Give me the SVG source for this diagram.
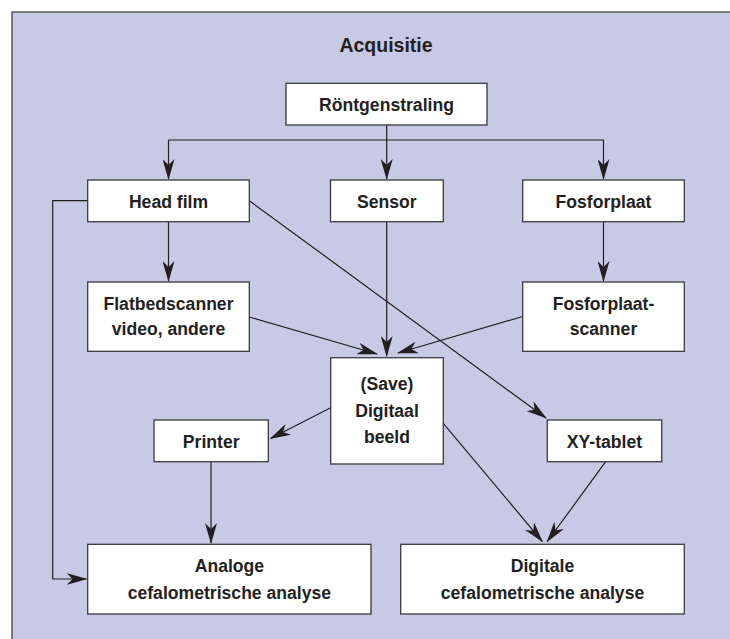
<svg xmlns="http://www.w3.org/2000/svg" width="730" height="639" viewBox="0 0 730 639">
<defs>
<style>
.box{fill:#ffffff;stroke:#3a3a3c;stroke-width:1.3}
.t{font-family:"Liberation Sans",Arial,sans-serif;font-weight:700;font-size:17.6px;fill:#231f20;text-anchor:middle}
.title{font-size:19.5px}
.c{fill:none;stroke:#231f20;stroke-width:1.2}
.a{marker-end:url(#arr)}
</style>
<marker id="arr" viewBox="0 0 21 12" refX="20" refY="6" markerWidth="21" markerHeight="12" markerUnits="userSpaceOnUse" orient="auto">
<path d="M0,0 L21,6 L0,12 L6,6 Z" fill="#231f20"/>
</marker>
</defs>
<rect x="0" y="0" width="730" height="639" fill="#ffffff"/>
<rect x="12" y="12" width="740" height="660" fill="#c8c9e4" stroke="#58595b" stroke-width="1.5"/>
<text class="t title" x="386" y="52">Acquisitie</text>

<g id="connectors">
<path class="c" d="M386.7,125 V140"/>
<path class="c" d="M168.5,140 H603.5"/>
<path class="c a" d="M386.7,140 V179"/>
<path class="c a" d="M168.5,140 V179"/>
<path class="c a" d="M603.5,140 V179"/>
<path class="c a" d="M168.5,221.7 V281"/>
<path class="c a" d="M603.5,221.7 V281"/>
<path class="c a" d="M386.7,221.7 V356"/>
<path class="c a" d="M249.3,317 L377,354"/>
<path class="c a" d="M522.7,316.5 L398,353"/>
<path class="c a" d="M249.3,200.7 L546,418"/>
<path class="c a" d="M87.7,200.7 H52.7 V579 H86.5"/>
<path class="c a" d="M330.7,407.7 L270.5,438.5"/>
<path class="c a" d="M211,461.7 V543"/>
<path class="c a" d="M443.3,423.3 L542.3,541.5"/>
<path class="c a" d="M605.7,461.7 L547.3,541.5"/>
</g>

<g id="rontgen"><rect class="box" x="286" y="83.3" width="201" height="41.7"/><text class="t" x="386.5" y="110.5">Röntgenstraling</text></g>
<g id="headfilm"><rect class="box" x="87.7" y="180" width="161.6" height="41.7"/><text class="t" x="168.5" y="207.5">Head film</text></g>
<g id="sensor"><rect class="box" x="330.5" y="180" width="112.8" height="41.7"/><text class="t" x="386.9" y="207.5">Sensor</text></g>
<g id="fosforplaat"><rect class="box" x="522.7" y="180" width="161.6" height="41.7"/><text class="t" x="603.5" y="207.5">Fosforplaat</text></g>
<g id="flatbed"><rect class="box" x="87.7" y="282" width="161.6" height="69.3"/><text class="t" x="168.5" y="309.5">Flatbedscanner</text><text class="t" x="168.5" y="335">video, andere</text></g>
<g id="fosforscanner"><rect class="box" x="522.7" y="282" width="161.6" height="69.3"/><text class="t" x="603.5" y="309.5">Fosforplaat-</text><text class="t" x="603.5" y="335">scanner</text></g>
<g id="digitaalbeeld"><rect class="box" x="330.7" y="357.7" width="112.6" height="106.3"/><text class="t" x="387" y="389.5">(Save)</text><text class="t" x="387" y="416.5">Digitaal</text><text class="t" x="387" y="443">beeld</text></g>
<g id="printer"><rect class="box" x="154" y="420" width="114.3" height="41.7"/><text class="t" x="211.2" y="447.5">Printer</text></g>
<g id="xytablet"><rect class="box" x="547.3" y="420" width="114.4" height="41.7"/><text class="t" x="604.5" y="447.5">XY-tablet</text></g>
<g id="analoge"><rect class="box" x="87.7" y="544.3" width="283.3" height="69.7"/><text class="t" x="229.4" y="572">Analoge</text><text class="t" x="229.4" y="599">cefalometrische analyse</text></g>
<g id="digitale"><rect class="box" x="400.7" y="544.3" width="283.6" height="69.7"/><text class="t" x="542.5" y="572">Digitale</text><text class="t" x="542.5" y="599">cefalometrische analyse</text></g>
</svg>
